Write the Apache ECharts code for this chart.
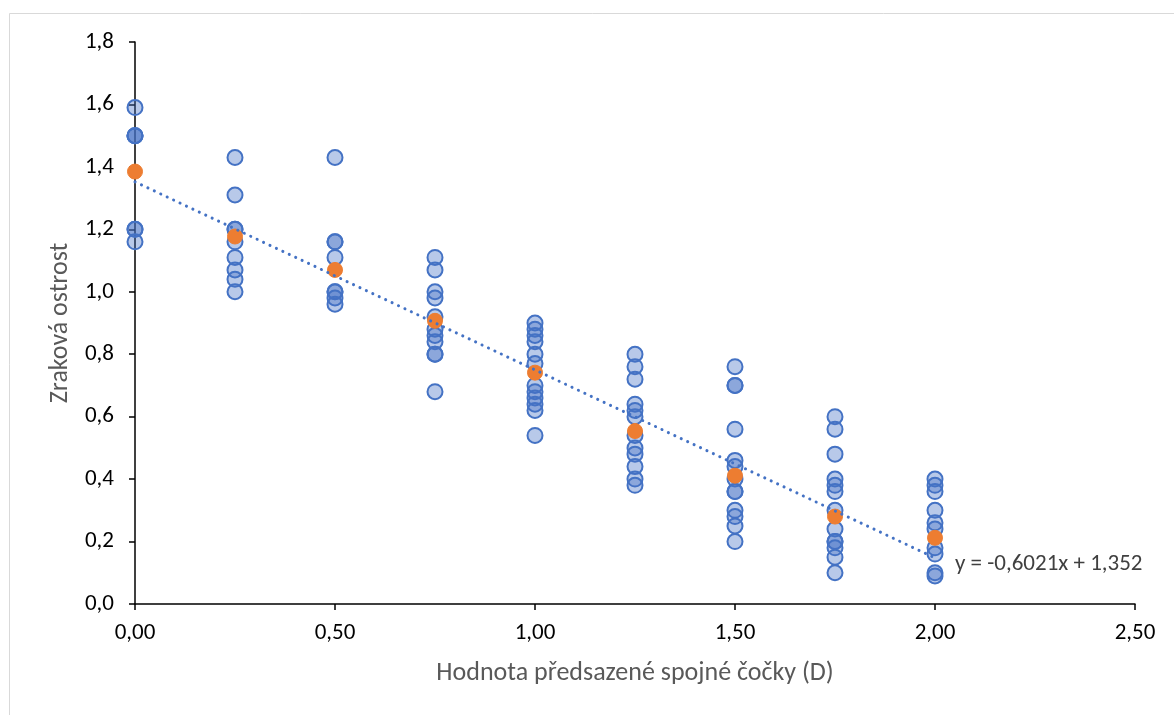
<!DOCTYPE html>
<html>
<head>
<meta charset="utf-8">
<script src="https://cdn.jsdelivr.net/npm/echarts@6/dist/echarts.min.js"></script>
<style>
  html, body { margin: 0; padding: 0; background: #fff; }
  #chart { width: 1174px; height: 715px; }
</style>
</head>
<body>
<div id="chart"></div>
<script>
// Lens power (D) and the visual acuity values measured at each power
const lensPowers = [0, 0.25, 0.5, 0.75, 1.0, 1.25, 1.5, 1.75, 2.0];
const acuityByPower = [
  [1.59, 1.5, 1.5, 1.5, 1.2, 1.2, 1.16],
  [1.43, 1.31, 1.2, 1.2, 1.16, 1.11, 1.07, 1.04, 1.0],
  [1.43, 1.16, 1.16, 1.11, 1.0, 1.0, 0.98, 0.96],
  [1.11, 1.07, 1.0, 0.98, 0.92, 0.88, 0.86, 0.84, 0.8, 0.8, 0.68],
  [0.9, 0.88, 0.86, 0.84, 0.8, 0.77, 0.7, 0.68, 0.66, 0.64, 0.62, 0.54],
  [0.8, 0.76, 0.72, 0.64, 0.62, 0.6, 0.54, 0.5, 0.48, 0.44, 0.4, 0.38],
  [0.76, 0.7, 0.7, 0.56, 0.46, 0.44, 0.4, 0.36, 0.36, 0.3, 0.28, 0.25, 0.2],
  [0.6, 0.56, 0.48, 0.4, 0.38, 0.36, 0.3, 0.24, 0.2, 0.2, 0.18, 0.15, 0.1],
  [0.4, 0.38, 0.36, 0.3, 0.26, 0.24, 0.18, 0.16, 0.1, 0.09]
];
// Mean acuity at each power
const meanAcuity = [1.385, 1.177, 1.07, 0.907, 0.741, 0.554, 0.411, 0.28, 0.212];
// Linear trend: y = slope * x + intercept
const trendSlope = -0.6021;
const trendIntercept = 1.352;
const trendLabel = 'y = -0,6021x + 1,352';
const xTitle = 'Hodnota předsazené spojné čočky (D)';
const yTitle = 'Zraková ostrost';

const measuredPoints = [];
lensPowers.forEach((p, i) => acuityByPower[i].forEach(v => measuredPoints.push([p, v])));
const meanPoints = lensPowers.map((p, i) => [p, meanAcuity[i]]);
const xStart = lensPowers[0];
const xEnd = lensPowers[lensPowers.length - 1];
const trendPoints = [
  [xStart, trendSlope * xStart + trendIntercept],
  [xEnd, trendSlope * xEnd + trendIntercept]
];

const fmt = (v, d) => v.toFixed(d).replace('.', ',');
const font = 'Calibri, Carlito, "Liberation Sans", "Open Sans", sans-serif';

const chart = echarts.init(document.getElementById('chart'), null, { renderer: 'canvas' });
chart.setOption({
  animation: false,
  backgroundColor: '#fff',
  textStyle: { fontFamily: font },
  graphic: [{
    type: 'rect',
    shape: { x: 9.5, y: 13.5, width: 1300, height: 900 },
    style: { fill: 'none', stroke: '#d9d9d9', lineWidth: 1 },
    silent: true, z: -10
  }],
  grid: { left: 135, right: 39, top: 42, bottom: 111, containLabel: false },
  xAxis: {
    type: 'value', min: 0, max: 2.5, interval: 0.5,
    name: xTitle, nameLocation: 'middle', nameGap: 56,
    nameTextStyle: { color: '#595959', fontSize: 26, fontFamily: font },
    axisLine: { show: true, onZero: false, lineStyle: { color: '#000', width: 1.5 } },
    axisTick: { show: true, length: 6, lineStyle: { color: '#000', width: 1.5 } },
    axisLabel: { color: '#000', fontSize: 23, margin: 18, fontFamily: font, formatter: v => fmt(v, 2) },
    splitLine: { show: false }
  },
  yAxis: {
    type: 'value', min: 0, max: 1.8, interval: 0.2,
    name: yTitle, nameLocation: 'middle', nameGap: 62,
    nameTextStyle: { color: '#595959', fontSize: 26, fontFamily: font },
    axisLine: { show: true, onZero: false, lineStyle: { color: '#000', width: 1.5 } },
    axisTick: { show: true, length: 6, inside: false, lineStyle: { color: '#000', width: 1.5 } },
    axisLabel: { color: '#000', fontSize: 23, margin: 21, fontFamily: font, formatter: v => fmt(v, 1) },
    splitLine: { show: false }
  },
  series: [
    {
      name: 'měření', type: 'scatter', data: measuredPoints, symbolSize: 15, z: 2,
      itemStyle: { color: 'rgba(68,114,196,0.38)', borderColor: '#4472C4', borderWidth: 2, opacity: 1 }
    },
    {
      name: 'průměr', type: 'scatter', data: meanPoints, symbolSize: 15, z: 3,
      itemStyle: { color: '#ED7D31', borderColor: '#ED7D31', borderWidth: 1, opacity: 1 }
    },
    {
      name: 'trend', type: 'line', data: trendPoints, symbol: 'none', z: 4,
      lineStyle: { color: '#4472C4', width: 3, type: [0.1, 7], cap: 'round' },
      endLabel: {
        show: true, formatter: trendLabel, color: '#404040', fontSize: 23,
        fontFamily: font, offset: [12, 6]
      }
    }
  ]
});
</script>
</body>
</html>
